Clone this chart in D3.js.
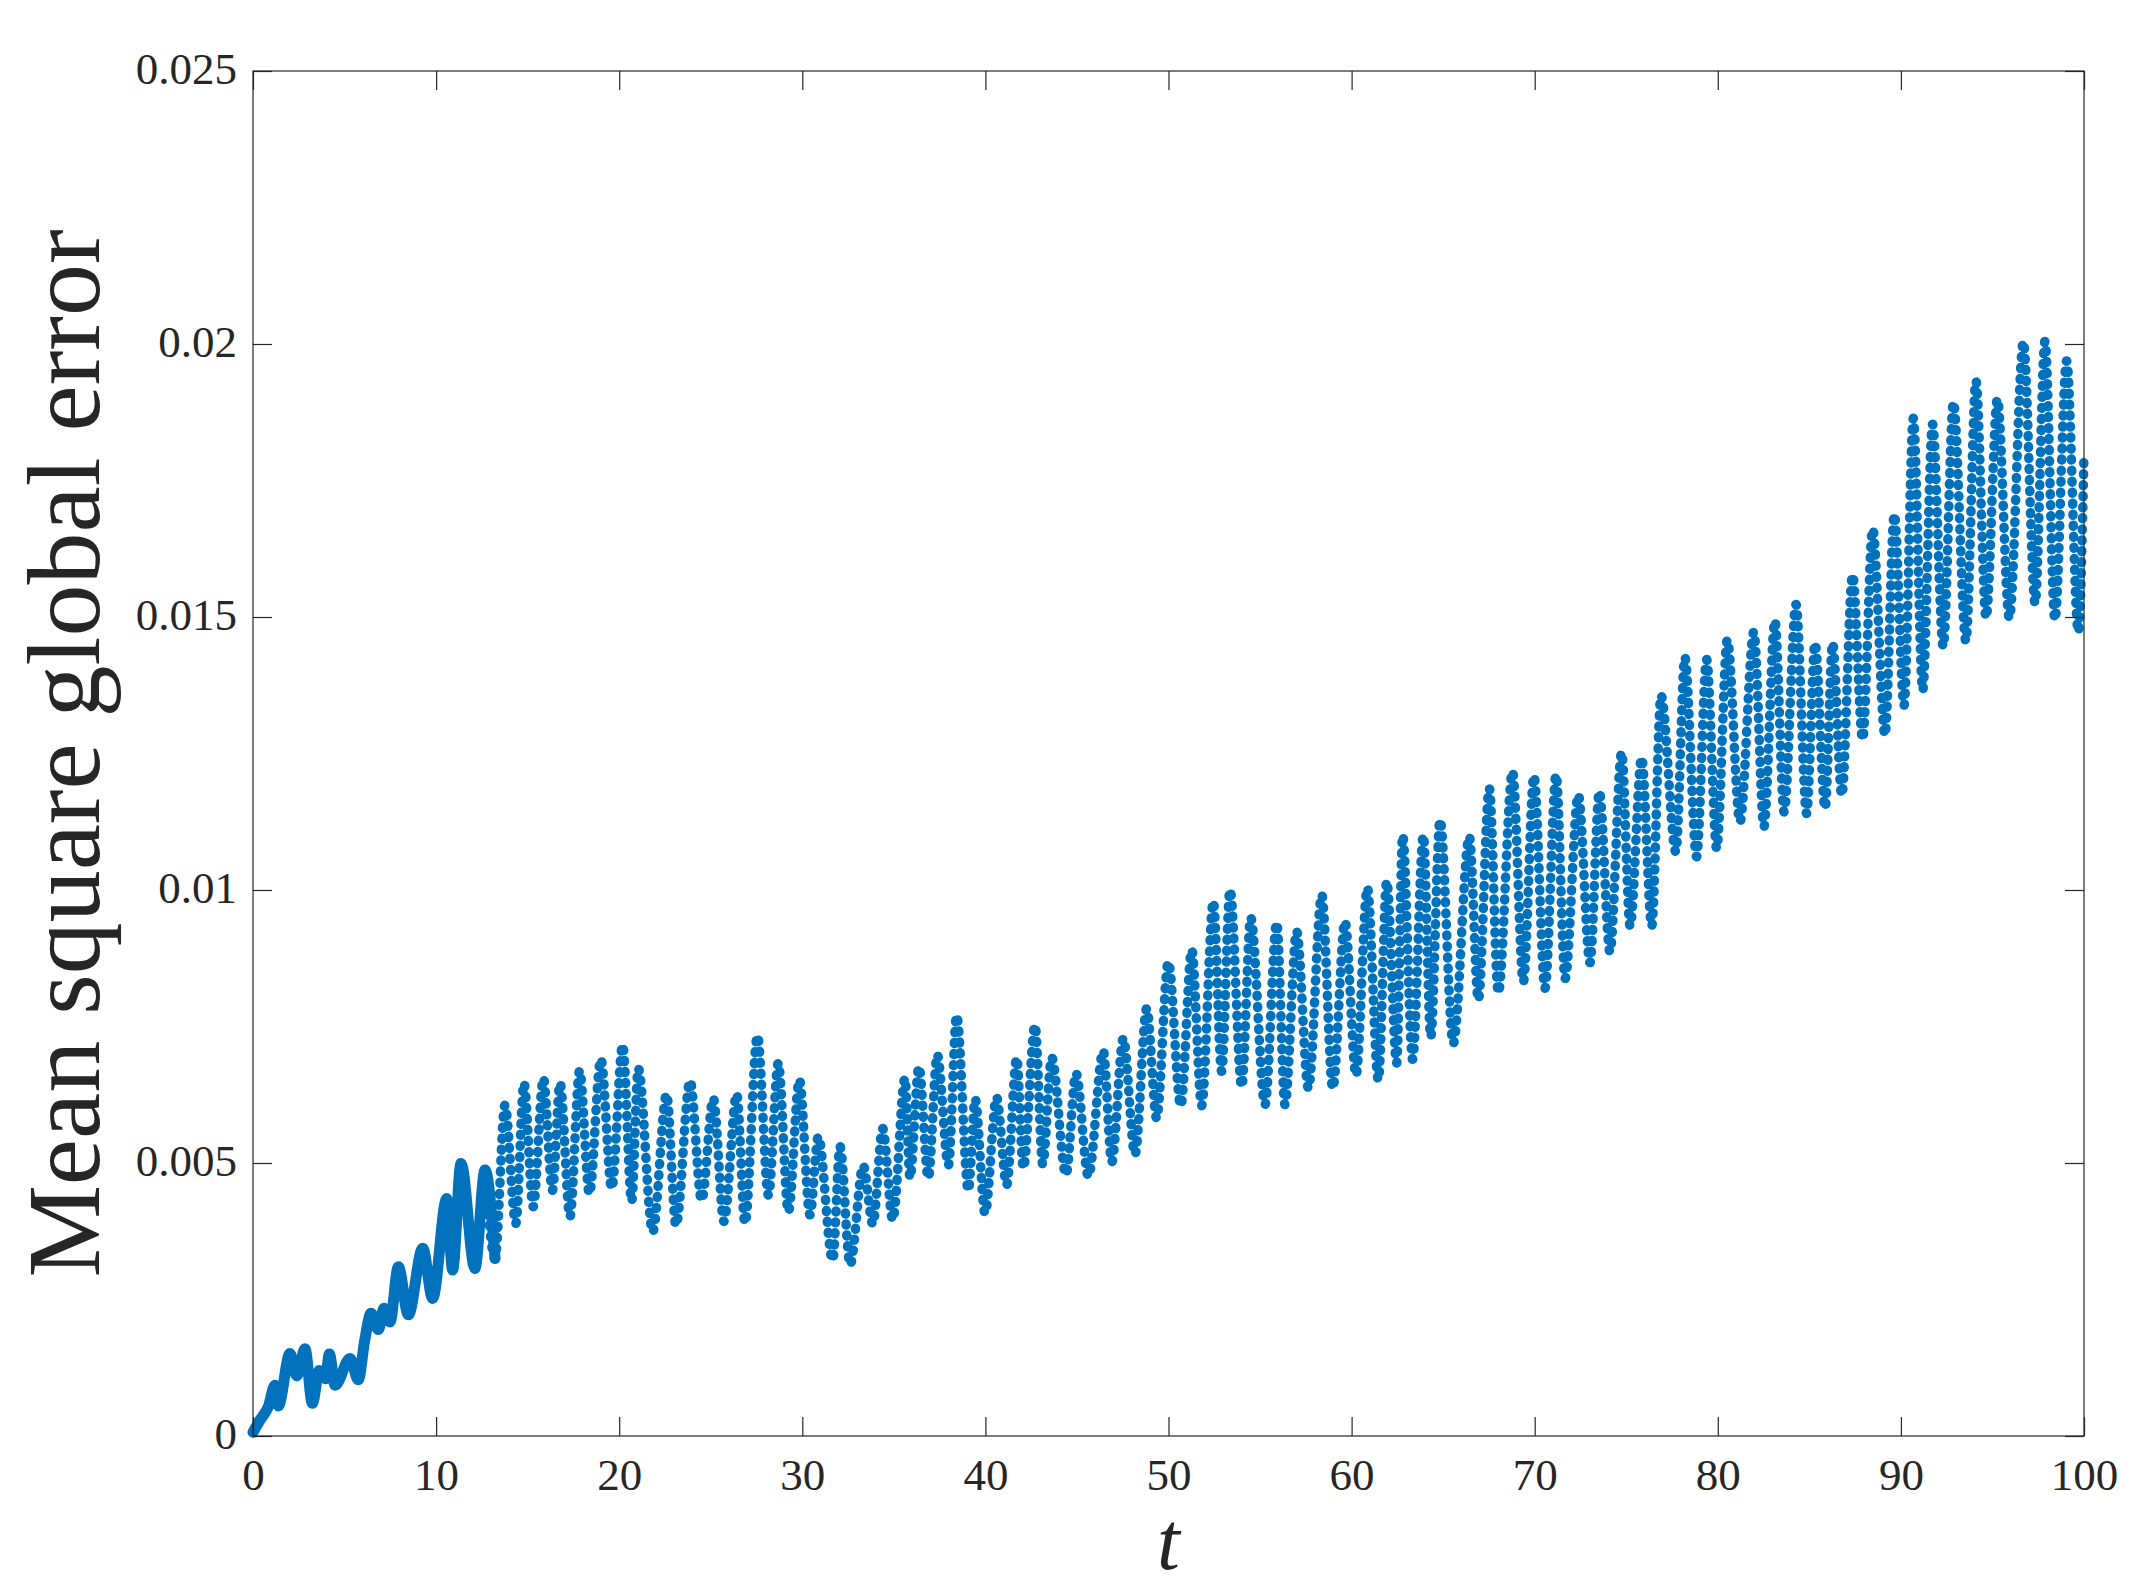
<!DOCTYPE html>
<html>
<head>
<meta charset="utf-8">
<script src="https://cdn.jsdelivr.net/npm/d3@7"></script>
<style>
  html, body { margin: 0; padding: 0; background: #ffffff; }
  svg { display: block; }
</style>
</head>
<body>
<svg id="chart" width="2154" height="1593"></svg>
<script>
// ---------------- data ----------------
const tValues = [
  0.00, 0.38, 0.84, 1.20, 1.38, 2.02, 2.39, 2.84, 3.24, 3.62, 3.95, 4.17, 4.48,
  5.30, 5.75, 6.10, 6.45, 6.85, 7.15, 7.48, 7.94, 8.48, 9.27, 9.81, 10.58, 10.90,
  11.36, 12.12, 12.67, 13.22, 13.76, 14.35, 14.80, 15.30, 15.86, 16.35, 16.77,
  17.31, 17.84, 18.37, 19.00, 19.59, 20.19, 20.68, 21.04, 21.83, 22.59, 23.10,
  23.87, 24.50, 25.14, 25.72, 26.42, 26.87, 27.55, 28.15, 28.69, 29.24, 29.84,
  30.42, 30.87, 31.66, 32.06, 32.61, 33.33, 33.85, 34.39, 34.94, 35.61, 35.88,
  36.37, 36.88, 37.37, 37.98, 38.43, 39.07, 39.44, 39.98, 40.61, 41.16, 41.71,
  42.07, 42.71, 43.13, 43.62, 44.40, 44.95, 45.62, 46.44, 46.90, 47.53, 48.17,
  48.81, 49.35, 49.99, 50.67, 51.27, 51.81, 52.45, 52.90, 53.36, 54.00, 54.49,
  55.27, 55.91, 56.36, 57.00, 57.64, 58.37, 58.97, 59.64, 60.24, 60.86, 61.46,
  61.92, 62.46, 62.79, 63.33, 63.92, 64.32, 64.83, 65.55, 66.43, 66.92, 67.52,
  68.01, 68.79, 69.38, 69.96, 70.56, 71.17, 71.66, 72.38, 73.02, 73.53, 74.11,
  74.75, 75.21, 75.84, 76.39, 76.90, 77.71, 78.20, 78.84, 79.39, 79.94, 80.52,
  81.21, 81.97, 82.52, 83.12, 83.62, 84.27, 84.85, 85.31, 85.86, 86.27, 86.77,
  87.36, 87.91, 88.46, 89.13, 89.64, 90.17, 90.68, 91.19, 91.73, 92.31, 92.87,
  93.55, 94.10, 94.65, 95.27, 95.92, 96.69, 97.33, 97.87, 98.41, 99.05, 99.69,
  100.00
];
const errValues = [
  0.00007, 0.00029, 0.00054, 0.00093, 0.00055, 0.00151, 0.00110, 0.00160, 0.00060, 0.00120, 0.00105, 0.00150, 0.00093,
  0.00142, 0.00103, 0.00175, 0.00225, 0.00195, 0.00234, 0.00209, 0.00310, 0.00222, 0.00344, 0.00252, 0.00435, 0.00304,
  0.00499, 0.00307, 0.00487, 0.00325, 0.00606, 0.00389, 0.00646, 0.00420, 0.00655, 0.00450, 0.00646,
  0.00402, 0.00669, 0.00444, 0.00690, 0.00454, 0.00716, 0.00430, 0.00673, 0.00374, 0.00626, 0.00386,
  0.00650, 0.00432, 0.00618, 0.00393, 0.00626, 0.00390, 0.00733, 0.00441, 0.00683, 0.00411, 0.00652,
  0.00405, 0.00548, 0.00322, 0.00530, 0.00314, 0.00495, 0.00388, 0.00563, 0.00396, 0.00655, 0.00473,
  0.00676, 0.00473, 0.00698, 0.00496, 0.00770, 0.00450, 0.00617, 0.00408, 0.00620, 0.00460, 0.00692,
  0.00491, 0.00752, 0.00498, 0.00693, 0.00479, 0.00664, 0.00476, 0.00705, 0.00502, 0.00728, 0.00516,
  0.00783, 0.00582, 0.00868, 0.00605, 0.00890, 0.00605, 0.00979, 0.00668, 0.01000, 0.00640, 0.00949,
  0.00607, 0.00940, 0.00607, 0.00924, 0.00637, 0.00991, 0.00637, 0.00942, 0.00661, 0.01004, 0.00652,
  0.01016, 0.00683, 0.01100, 0.00690, 0.01100, 0.00731, 0.01128, 0.00719, 0.01098, 0.00799, 0.01186,
  0.00812, 0.01217, 0.00832, 0.01209, 0.00820, 0.01211, 0.00838, 0.01174, 0.00867, 0.01180, 0.00887,
  0.01252, 0.00934, 0.01242, 0.00934, 0.01356, 0.01070, 0.01426, 0.01061, 0.01422, 0.01076, 0.01458,
  0.01125, 0.01473, 0.01116, 0.01493, 0.01143, 0.01523, 0.01140, 0.01452, 0.01150, 0.01452, 0.01174,
  0.01577, 0.01276, 0.01661, 0.01284, 0.01688, 0.01338, 0.01864, 0.01366, 0.01853, 0.01446, 0.01893,
  0.01456, 0.01932, 0.01499, 0.01899, 0.01498, 0.02004, 0.01525, 0.02005, 0.01495, 0.01969, 0.01473,
  0.01798
];
const xTicks = [0, 10, 20, 30, 40, 50, 60, 70, 80, 90, 100];
const xTickLabels = ["0", "10", "20", "30", "40", "50", "60", "70", "80", "90", "100"];
const yTicks = [0, 0.005, 0.01, 0.015, 0.02, 0.025];
const yTickLabels = ["0", "0.005", "0.01", "0.015", "0.02", "0.025"];
const xLabel = "t";
const yLabel = "Mean square global error";

// ---------------- layout & style ----------------
const W = 2154, H = 1593;
const plot = { left: 253, right: 2084, top: 71, bottom: 1436 };
const axisColor = "#262626";
const seriesColor = "#0072BD";
const tickFont = "'Liberation Serif', 'DejaVu Serif', serif";
const denseUntil = 13.22;   // early part of the series is drawn as a solid band

const svg = d3.select("#chart");
svg.append("rect").attr("width", W).attr("height", H).attr("fill", "#ffffff");

const x = d3.scaleLinear().domain([0, 100]).range([plot.left, plot.right]);
const y = d3.scaleLinear().domain([0, 0.025]).range([plot.bottom, plot.top]);

const data = tValues.map((t, i) => ({ t: t, v: errValues[i] }));

// series
const clipId = "plotClip";
svg.append("clipPath").attr("id", clipId)
  .append("rect")
  .attr("x", plot.left - 6).attr("y", plot.top)
  .attr("width", plot.right - plot.left + 12).attr("height", plot.bottom - plot.top + 6);

const line = d3.line()
  .x(d => x(d.t))
  .y(d => y(d.v))
  .curve(d3.curveMonotoneX);

const g = svg.append("g").attr("clip-path", `url(#${clipId})`);

g.append("path")
  .datum(data.filter(d => d.t <= denseUntil))
  .attr("d", line)
  .attr("fill", "none")
  .attr("stroke", seriesColor)
  .attr("stroke-width", 11)
  .attr("stroke-linecap", "round")
  .attr("stroke-linejoin", "round");

g.append("path")
  .datum(data.filter(d => d.t >= denseUntil - 0.6))
  .attr("d", line)
  .attr("fill", "none")
  .attr("stroke", seriesColor)
  .attr("stroke-width", 9.5)
  .attr("stroke-linecap", "round")
  .attr("stroke-linejoin", "round")
  .attr("stroke-dasharray", "1 10");

// axes (ticks inside, on all four sides)
const tickLen = 19;
function styleAxis(sel) {
  sel.select(".domain").remove();
  sel.selectAll(".tick line").attr("stroke", axisColor).attr("stroke-width", 1.2);
}

const xAxisB = svg.append("g")
  .attr("transform", `translate(0,${plot.bottom})`)
  .call(d3.axisBottom(x).tickValues(xTicks)
    .tickFormat((d, i) => xTickLabels[i])
    .tickSize(-tickLen).tickSizeOuter(0).tickPadding(0));
styleAxis(xAxisB);
xAxisB.selectAll(".tick text")
  .attr("y", 54).attr("dy", null)
  .attr("fill", axisColor)
  .style("font-family", tickFont).style("font-size", "45px");

const xAxisT = svg.append("g")
  .attr("transform", `translate(0,${plot.top})`)
  .call(d3.axisTop(x).tickValues(xTicks).tickFormat("").tickSize(-tickLen).tickSizeOuter(0));
styleAxis(xAxisT);

const yAxisL = svg.append("g")
  .attr("transform", `translate(${plot.left},0)`)
  .call(d3.axisLeft(y).tickValues(yTicks)
    .tickFormat((d, i) => yTickLabels[i])
    .tickSize(-tickLen).tickSizeOuter(0).tickPadding(16));
styleAxis(yAxisL);
yAxisL.selectAll(".tick text")
  .attr("dy", "0.27em")
  .attr("fill", axisColor)
  .style("font-family", tickFont).style("font-size", "45px");

const yAxisR = svg.append("g")
  .attr("transform", `translate(${plot.right},0)`)
  .call(d3.axisRight(y).tickValues(yTicks).tickFormat("").tickSize(-tickLen).tickSizeOuter(0));
styleAxis(yAxisR);

// box
svg.append("rect")
  .attr("x", plot.left).attr("y", plot.top)
  .attr("width", plot.right - plot.left).attr("height", plot.bottom - plot.top)
  .attr("fill", "none").attr("stroke", axisColor).attr("stroke-width", 1.2);

// axis labels
svg.append("text")
  .attr("x", (plot.left + plot.right) / 2)
  .attr("y", 1569)
  .attr("text-anchor", "middle")
  .attr("fill", axisColor)
  .style("font-family", tickFont)
  .style("font-style", "italic")
  .style("font-size", "82px")
  .text(xLabel);

svg.append("text")
  .attr("transform", `translate(99,${(plot.top + plot.bottom) / 2}) rotate(-90)`)
  .attr("text-anchor", "middle")
  .attr("fill", axisColor)
  .style("font-family", tickFont)
  .style("font-size", "104px")
  .text(yLabel);
</script>
</body>
</html>
